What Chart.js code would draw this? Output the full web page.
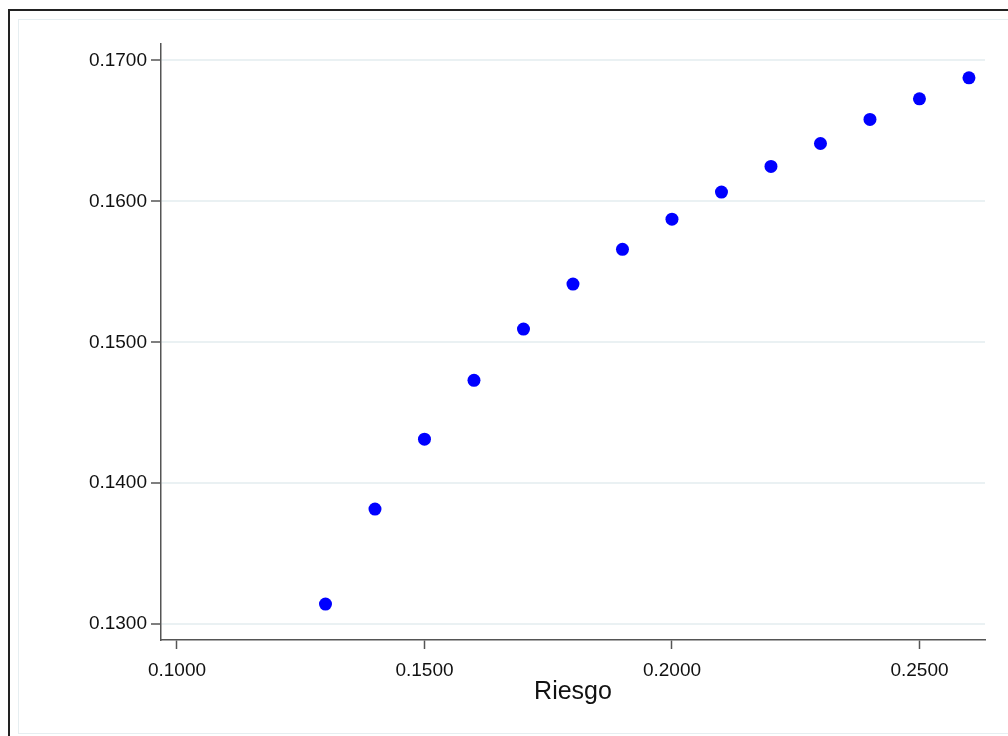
<!DOCTYPE html>
<html>
<head>
<meta charset="utf-8">
<script src="https://cdn.jsdelivr.net/npm/chart.js@4.4.1/dist/chart.umd.min.js"></script>
<style>
    html, body { margin: 0; padding: 0; background: #fff; overflow: hidden; }
    #marco { position: absolute; left: 8px; top: 9px; width: 1100px; height: 800px; border: 2px solid #222; box-sizing: border-box; }
    #interior { position: absolute; left: 18px; top: 19px; width: 1100px; height: 715px; border: 1px solid #e6eef1; box-sizing: border-box; }
    #lienzo { position: absolute; left: 0; top: 0; }
</style>
</head>
<body>
<div id="marco"></div>
<div id="interior"></div>
<canvas id="lienzo" width="1008" height="736"></canvas>
<script>
// Datos (riesgo vs. rendimiento)
const riesgo = [0.13, 0.14, 0.15, 0.16, 0.17, 0.18, 0.19, 0.20, 0.21, 0.22, 0.23, 0.24, 0.25, 0.26];
const rendimiento = [0.13142, 0.13816, 0.14312, 0.14730, 0.15094, 0.15413, 0.15660, 0.15874, 0.16066, 0.16248, 0.16411, 0.16582, 0.16728, 0.16877];

const ticksX = [0.10, 0.15, 0.20, 0.25];
const ticksY = [0.13, 0.14, 0.15, 0.16, 0.17];

const fuente = "'Liberation Sans', Arial, Helvetica, sans-serif";
const colorEje = "#555";

const puntos = riesgo.map((x, i) => ({ x: x, y: rendimiento[i] }));

new Chart(document.getElementById("lienzo"), {
    type: "scatter",
    data: {
        datasets: [{
            data: puntos,
            backgroundColor: "#0000ff",
            borderWidth: 0,
            pointRadius: 6.5,
            pointHoverRadius: 6.5
        }]
    },
    options: {
        responsive: false,
        animation: false,
        events: [],
        layout: { padding: { left: 0, top: 44, right: 23, bottom: 0 } },
        plugins: { legend: { display: false }, tooltip: { enabled: false } },
        scales: {
            x: {
                type: "linear",
                min: 0.09677,
                max: 0.26324,
                afterBuildTicks: (s) => { s.ticks = ticksX.map(v => ({ value: v })); },
                afterFit: (s) => { s.height = 96; },
                ticks: {
                    callback: (v) => v.toFixed(4),
                    font: { family: fuente, size: 19 },
                    color: "#111",
                    padding: 10,
                    maxRotation: 0,
                    autoSkip: false
                },
                grid: { drawOnChartArea: false, drawTicks: true, tickLength: 9, tickColor: colorEje, tickWidth: 1.5 },
                border: { display: true, color: colorEje, width: 1.5 },
                title: {
                    display: true,
                    text: "Riesgo",
                    font: { family: fuente, size: 25 },
                    color: "#111",
                    padding: { top: 0, bottom: 29 }
                }
            },
            y: {
                type: "linear",
                min: 0.12887,
                max: 0.17117,
                afterBuildTicks: (s) => { s.ticks = ticksY.map(v => ({ value: v })); },
                afterFit: (s) => { s.width = 161; },
                ticks: {
                    callback: (v) => v.toFixed(4),
                    font: { family: fuente, size: 19 },
                    color: "#111",
                    padding: 4,
                    autoSkip: false
                },
                grid: { color: "#eaf1f3", lineWidth: 2, drawTicks: true, tickLength: 10, tickColor: colorEje, tickWidth: 1.5 },
                border: { display: true, color: colorEje, width: 1.5 }
            }
        }
    }
});
</script>
</body>
</html>
